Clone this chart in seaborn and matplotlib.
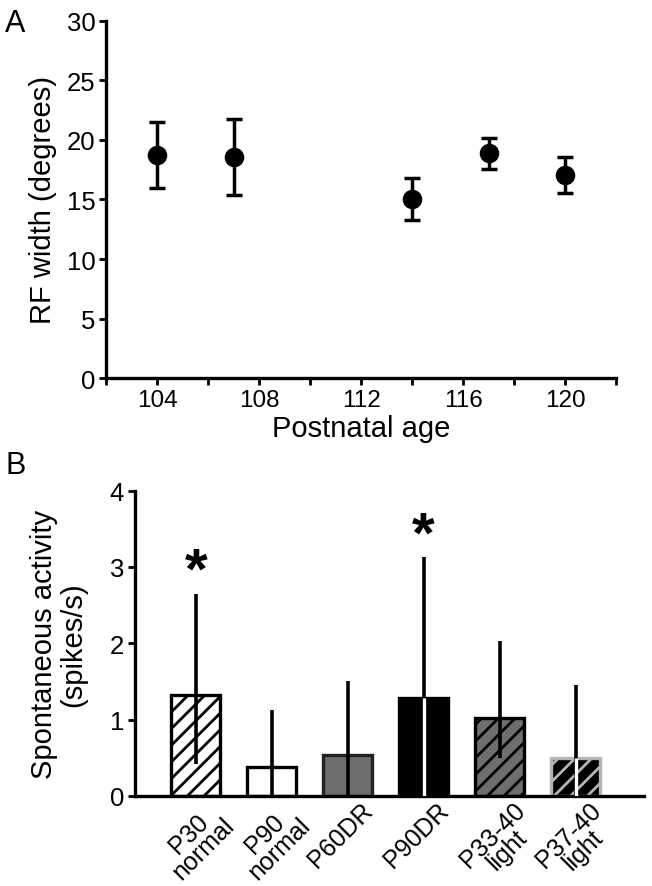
import numpy as np
import pandas as pd
import matplotlib
matplotlib.use("Agg")
import matplotlib.pyplot as plt
import matplotlib.transforms as mtransforms
import seaborn as sns

# Panel A: receptive field width vs postnatal age (mean +/- error)
ages = [104, 107, 114, 117, 120]
rf_width = [18.73, 18.54, 15.04, 18.87, 17.06]
rf_err = [2.78, 3.2, 1.75, 1.3, 1.51]
a_xticks = list(range(102, 123, 2))
a_xtick_labels = ["", "104", "", "108", "", "112", "", "116", "", "120", ""]
a_yticks = [0, 5, 10, 15, 20, 25, 30]

# Panel B: spontaneous activity per rearing group
groups = ["P30\nnormal", "P90\nnormal", "P60DR\n", "P90DR\n", "P33-40\nlight", "P37-40\nlight"]
activity = [1.32, 0.375, 0.54, 1.29, 1.02, 0.50]
err_low = [0.90, 0.375, 0.54, 1.29, 0.52, 0.50]
err_high = [1.32, 0.755, 0.97, 1.84, 1.01, 0.96]
b_yticks = [0, 1, 2, 3, 4]
star_groups = [0, 3]
star_y = [3.08, 3.55]

# bar styling
fills = ["white", "white", "#6e6e6e", "black", "#6e6e6e", "black"]
edges = ["black", "black", "#222222", "black", "black", "#b5b5b5"]
hatches = ["//", "", "", "", "//", "//"]
inner_line = ["black", "black", "black", "white", "black", "white"]

sns.set_style("ticks")
plt.rcParams['font.family'] = ['Liberation Sans', 'DejaVu Sans']
plt.rcParams['hatch.linewidth'] = 2.0
for k in ["text.color", "axes.labelcolor", "xtick.color", "ytick.color", "axes.edgecolor"]:
    plt.rcParams[k] = "black"

fig = plt.figure(figsize=(6.52, 8.87), dpi=100)

# ---------- Panel A ----------
axA = fig.add_axes([0.1633, 0.5724, 0.7822, 0.4032])
axA.errorbar(ages, rf_width, yerr=rf_err, fmt="none", ecolor="black",
             elinewidth=2.5, capsize=6, capthick=2.5, zorder=2)
sns.scatterplot(x=ages, y=rf_width, ax=axA, color="black", s=170,
                edgecolor="black", zorder=3)
axA.set_xlim(102, 122)
axA.set_ylim(0, 30)
axA.set_xticks(a_xticks)
axA.set_xticklabels(a_xtick_labels)
axA.set_yticks(a_yticks)
axA.set_xlabel("Postnatal age", fontsize=21, labelpad=2)
axA.set_ylabel("RF width (degrees)", fontsize=21, labelpad=7)
axA.tick_params(axis="x", labelsize=17.5, width=2, length=5, pad=3)
axA.tick_params(axis="y", labelsize=18.5, width=2, length=5, pad=3)
sns.despine(ax=axA)
for s in ["left", "bottom"]:
    axA.spines[s].set_linewidth(2.4)

# ---------- Panel B ----------
axB = fig.add_axes([0.2071, 0.1015, 0.7807, 0.3442])
df = pd.DataFrame({"group": groups, "activity": activity})
sns.barplot(data=df, x="group", y="activity", hue="group", palette=fills,
            legend=False, errorbar=None, width=0.65, ax=axB, zorder=1)
for i, p in enumerate(axB.patches):
    p.set_facecolor(fills[i])
    p.set_edgecolor(edges[i])
    p.set_linewidth(2.4)
    p.set_hatch(hatches[i])

xpos = np.arange(len(groups))
lo = np.array(activity) - np.array(err_low)
hi = np.array(activity) + np.array(err_high)
axB.vlines(xpos, lo, hi, color="black", linewidth=2.6, zorder=3)
for i in range(len(groups)):
    if inner_line[i] != "black":
        axB.vlines(xpos[i], lo[i], activity[i], color=inner_line[i],
                   linewidth=2.4, zorder=4)

star_tr = mtransforms.offset_copy(axB.transData, fig=fig, y=-12, units="dots")
for g, y in zip(star_groups, star_y):
    axB.text(g, y, "*", ha="center", va="center", fontsize=42,
             fontweight="bold", color="black", transform=star_tr)

axB.set_xlim(-0.8, 5.9)
axB.set_ylim(0, 4)
axB.set_yticks(b_yticks)
axB.set_xlabel("")
axB.set_ylabel("Spontaneous activity\n(spikes/s)", fontsize=21, labelpad=16,
               linespacing=1.05)
axB.tick_params(axis="y", labelsize=18.5, width=2, length=5, pad=3)
axB.tick_params(axis="x", labelsize=18, length=0, pad=1)
for lab in axB.get_xticklabels():
    lab.set_rotation(45)
    lab.set_ha("center")
    lab.set_multialignment("center")
    lab.set_linespacing(0.85)
sns.despine(ax=axB)
for s in ["left", "bottom"]:
    axB.spines[s].set_linewidth(2.4)

fig.text(0.008, 0.99, "A", fontsize=22, va="top", ha="left")
fig.text(0.008, 0.492, "B", fontsize=22, va="top", ha="left")

fig.savefig("out.png", dpi=100)
